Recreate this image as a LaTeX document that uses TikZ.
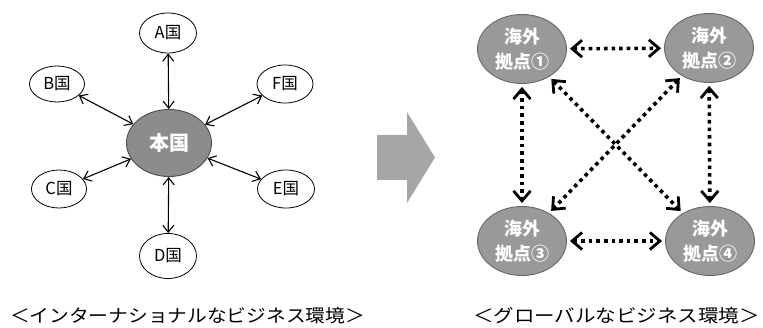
\documentclass[tikz,border=0pt]{standalone}
\usepackage{fontspec}
\newfontfamily\jp{Noto Sans CJK JP}
\usetikzlibrary{shapes.geometric,arrows.meta}
\definecolor{maingray}{HTML}{8C8C8C}
\definecolor{basegray}{HTML}{999999}
\definecolor{bigarrow}{HTML}{A6A6A6}
\tikzset{
  country/.style={ellipse,draw=black,line width=0.8pt,fill=white,inner sep=0pt,
    font=\jp\fontsize{16.5}{18}\selectfont},
  homebox/.style={ellipse,draw=black!70,line width=0.9pt,fill=maingray,inner sep=0pt,
    text=white,font=\jp\bfseries\fontsize{20}{22}\selectfont},
  basebox/.style={ellipse,draw=black!60,line width=0.9pt,fill=basegray,inner sep=0pt,
    minimum width=89pt,minimum height=69pt,text=white,align=center,
    font=\jp\bfseries\fontsize{18}{25}\selectfont},
  link/.style={line width=1.1pt,{Straight Barb[length=7pt,width=11pt]}-{Straight Barb[length=7pt,width=11pt]}},
  dotlink/.style={line width=3.6pt,dash pattern=on 3.6pt off 4pt,
    {Straight Barb[length=10pt,width=17pt,line width=2.8pt]}-{Straight Barb[length=10pt,width=17pt,line width=2.8pt]},
    shorten <=3pt,shorten >=3pt},
  caption/.style={font=\jp\fontsize{18}{22}\selectfont,inner sep=0pt}
}
\begin{document}
\begin{tikzpicture}[x=1pt,y=-1pt]
\useasboundingbox (0,0) rectangle (763,328);
% left: international
\node[homebox,minimum width=85pt,minimum height=67pt] (home) at (169,143) {本国};
\node[country,minimum width=57pt,minimum height=40pt] (A) at (168,33) {A国};
\node[country,minimum width=55pt,minimum height=36pt] (B) at (57,84) {B国};
\node[country,minimum width=56pt,minimum height=38pt] (F) at (285,84) {F国};
\node[country,minimum width=55pt,minimum height=38pt] (C) at (59,189) {C国};
\node[country,minimum width=57pt,minimum height=38pt] (E) at (286,189) {E国};
\node[country,minimum width=57pt,minimum height=45pt] (D) at (168,256) {D国};
\foreach \n in {A,B,C,D,E,F} \draw[link] (home) -- (\n);
% big arrow
\fill[bigarrow] (377,135) -- (407,135) -- (407,112) -- (435,157.5) -- (407,203) -- (407,180) -- (377,180) -- cycle;
% right: global
\node[basebox] (b1) at (522,49) {海外\\拠点①};
\node[basebox] (b2) at (709,48) {海外\\拠点②};
\node[basebox] (b3) at (522,241) {海外\\拠点③};
\node[basebox] (b4) at (710,241) {海外\\拠点④};
\draw[dotlink] (b1) -- (b2);
\draw[dotlink] (b3) -- (b4);
\draw[dotlink] (b1) -- (b3);
\draw[dotlink] (b2) -- (b4);
\draw[dotlink] (b1) -- (b4);
\draw[dotlink] (b2) -- (b3);
% captions
\node[caption] (cap1) at (187.5,316) {\resizebox{355pt}{\height}{＜インターナショナルなビジネス環境＞}};
\node[caption] (cap2) at (616.5,316) {\resizebox{287pt}{\height}{＜グローバルなビジネス環境＞}};
\end{tikzpicture}
\end{document}
